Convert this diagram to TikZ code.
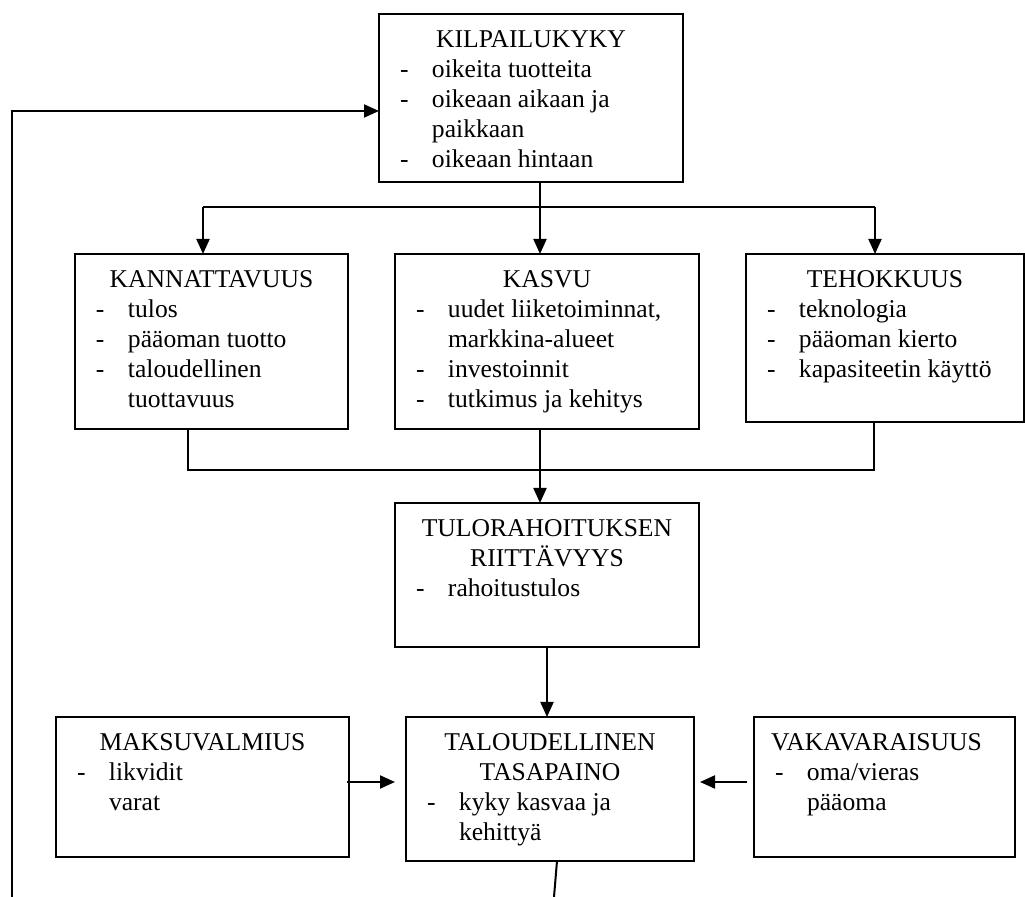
\documentclass[tikz,border=0pt]{standalone}
\usepackage{fontspec}
\setmainfont{Liberation Serif}
\usetikzlibrary{calc}
\usetikzlibrary{arrows.meta}

\newlength\dashx
\newlength\textx
\setlength\dashx{10.5pt}
\setlength\textx{26.5pt}
\newcommand{\boxtext}[3]{\parbox[c][#2][t]{#1}{%
  \fontsize{12.8}{15}\selectfont\setlength\parindent{0pt}#3}}
\newcommand{\boxhead}[1]{{\centering\rule{0pt}{17pt}#1\par}}
\newcommand{\itm}[1]{\noindent\hspace*{\dashx}\makebox[\dimexpr\textx-\dashx\relax][l]{-}#1\par}
\newcommand{\itc}[1]{\noindent\hspace*{\textx}#1\par}

\tikzset{blk/.style={draw, line width=1pt, anchor=north west, inner sep=0pt, outer sep=0pt}}

\begin{document}
\begin{tikzpicture}[x=0.5pt, y=-0.5pt, line width=1pt, >={Triangle[length=7.5pt,width=6.5pt]}]
    \useasboundingbox (0,0) rectangle (1025,897);
    \node[blk] (kilp) at (379,14) {\boxtext{152pt}{84pt}{%
      \boxhead{KILPAILUKYKY}
      \itm{oikeita tuotteita}
      \itm{oikeaan aikaan ja}
      \itc{paikkaan}
      \itm{oikeaan hintaan}}};
    \node[blk] (kann) at (75,254) {\boxtext{136.5pt}{87.5pt}{%
      \boxhead{KANNATTAVUUS}
      \itm{tulos}
      \itm{pääoman tuotto}
      \itm{taloudellinen}
      \itc{tuottavuus}}};
    \node[blk] (kasvu) at (395,254) {\boxtext{152pt}{87.5pt}{%
      \boxhead{KASVU}
      \itm{uudet liiketoiminnat,}
      \itc{markkina-alueet}
      \itm{investoinnit}
      \itm{tutkimus ja kehitys}}};
    \node[blk] (teho) at (746,254) {\boxtext{139pt}{84pt}{%
      \boxhead{TEHOKKUUS}
      \itm{teknologia}
      \itm{pääoman kierto}
      \itm{kapasiteetin käyttö}}};
    \node[blk] (tulo) at (395,503) {\boxtext{152pt}{72pt}{%
      \boxhead{TULORAHOITUKSEN\\RIITTÄVYYS}
      \itm{rahoitustulos}}};
    \node[blk] (talo) at (406,717) {\boxtext{144pt}{72pt}{%
      \boxhead{TALOUDELLINEN\\TASAPAINO}
      \itm{kyky kasvaa ja}
      \itc{kehittyä}}};
    \node[blk] (maks) at (56,717) {\boxtext{146.5pt}{70pt}{%
      \boxhead{MAKSUVALMIUS}
      \itm{likvidit}
      \itc{varat}}};
    \node[blk] (vaka) at (754,717) {\boxtext{130.5pt}{70pt}{%
      \boxhead{VAKAVARAISUUS\hspace*{8pt}}
      \itm{oma/vieras}
      \itc{pääoma}}};
    \coordinate (Loop) at (12,897);
    \coordinate (TopL) at (203,207);
    \coordinate (TopM) at (540,207);
    \coordinate (TopR) at (875,207);
    \coordinate (BotL) at (188,470);
    \coordinate (BotR) at (874,470);
    \coordinate (Mid) at (0,782);
    \coordinate (Out) at (554,897);
    \draw [->] (Loop) |- ($(kilp.north west)+(0,97)$);
    \draw [->] (TopM |- kilp.south) -- (TopM |- kasvu.north);
    \draw (TopL) -- (TopR);
    \draw [->] (TopL) -- (TopL |- kann.north);
    \draw [->] (TopR) -- (TopR |- teho.north);
    \draw (BotL |- kann.south) -- (BotL) -- (BotR) -- (BotR |- teho.south);
    \draw [->] (TopM |- kasvu.south) -- (TopM |- tulo.north);
    \draw [->] (tulo.south) -- (tulo.south |- talo.north);
    \draw [->, shorten >=5.5pt] ($(maks.east |- Mid)+(-2,0)$) -- (talo.west |- Mid);
    \draw [->, shorten <=3.5pt, shorten >=3pt] (vaka.west |- Mid) -- (talo.east |- Mid);
    \draw ($(talo.south)+(7,0)$) -- (Out);
  \end{tikzpicture}
\end{document}
